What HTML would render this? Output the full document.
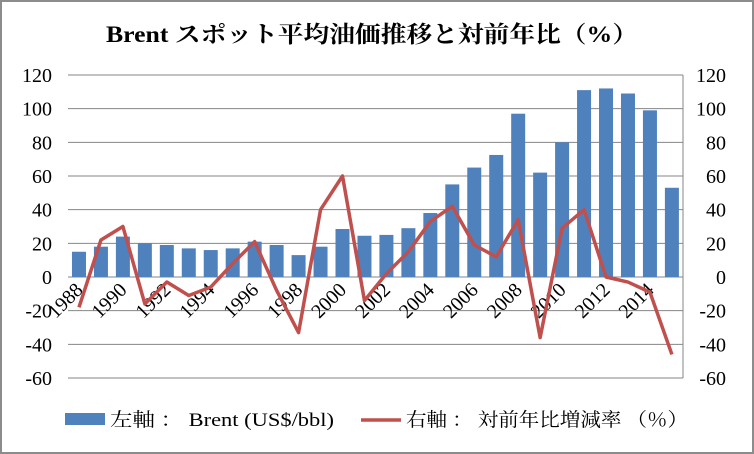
<!DOCTYPE html><html><head><meta charset="utf-8"><style>html,body{margin:0;padding:0;background:#fff}svg{display:block}text{font-family:"Liberation Serif","Noto Serif CJK SC",serif;fill:#000}</style></head><body>
<svg width="754" height="454" viewBox="0 0 754 454" xmlns="http://www.w3.org/2000/svg">
<rect x="1" y="1" width="752" height="452" fill="#fff" stroke="#8c8c8c" stroke-width="2"/>
<text x="106" y="42" font-size="23" font-weight="bold" textLength="532" lengthAdjust="spacingAndGlyphs">Brent スポット平均油価推移と対前年比（%）</text>
<g id="grid" stroke="#868686" stroke-width="1"></g>
<g id="bars" fill="#4f81bd"></g>
<g id="labels" font-size="19"></g>
<polyline id="line" fill="none" stroke="#c0504d" stroke-width="3.5" stroke-linejoin="round"/>
<line x1="683" y1="75" x2="683" y2="378" stroke="#868686"/>
<rect x="65" y="413" width="40" height="12" fill="#4f81bd"/>
<text x="110" y="426" font-size="19" textLength="224" lengthAdjust="spacingAndGlyphs">左軸 ： Brent (US$/bbl)</text>
<line x1="361" y1="420" x2="401" y2="420" stroke="#c0504d" stroke-width="3.5"/>
<text x="406" y="426" font-size="19" textLength="282" lengthAdjust="spacingAndGlyphs">右軸 ： 対前年比増減率 （％）</text>
</svg>
<script>
var ns="http://www.w3.org/2000/svg";function el(t,a,p){var e=document.createElementNS(ns,t);for(var k in a)e.setAttribute(k,a[k]);document.getElementById(p).appendChild(e);return e;}
function Y(v){return 277-v*33.67/20;}
for(var v=-60;v<=120;v+=20){var y=Y(v);el("line",{x1:68,x2:683,y1:y,y2:y},"grid");
var t=el("text",{x:52,y:y+7,"text-anchor":"end","font-size":"20"},"labels");t.textContent=v;
var t2=el("text",{x:726,y:y+7,"text-anchor":"end","font-size":"20"},"labels");t2.textContent=v;}
var b=[15,18,24,20,19,17,16,17,21,19,13,18,28.5,24.5,25,29,38,55,65,72.5,97,62,80,111,112,109,99,53];
var r=[-18,22,30,-16,-3,-11,-6,8,21,-8,-33,40,60,-14,2,15,33,42,19,12,34,-36,29,40,0,-3,-9,-46];
var pts=[];
for(var i=0;i<28;i++){var cx=68+21.96*(i+0.5);el("rect",{x:cx-7,y:Y(b[i]),width:14,height:Y(0)-Y(b[i])},"bars");pts.push(cx+","+Y(r[i]));
if(i%2==0){var t=el("text",{x:cx+5,y:291,"text-anchor":"end","font-size":"20","transform":"rotate(-45 "+(cx+5)+" 291)"},"labels");t.textContent=1988+i;}}
document.getElementById("line").setAttribute("points",pts.join(" "));
</script>
</body></html>
